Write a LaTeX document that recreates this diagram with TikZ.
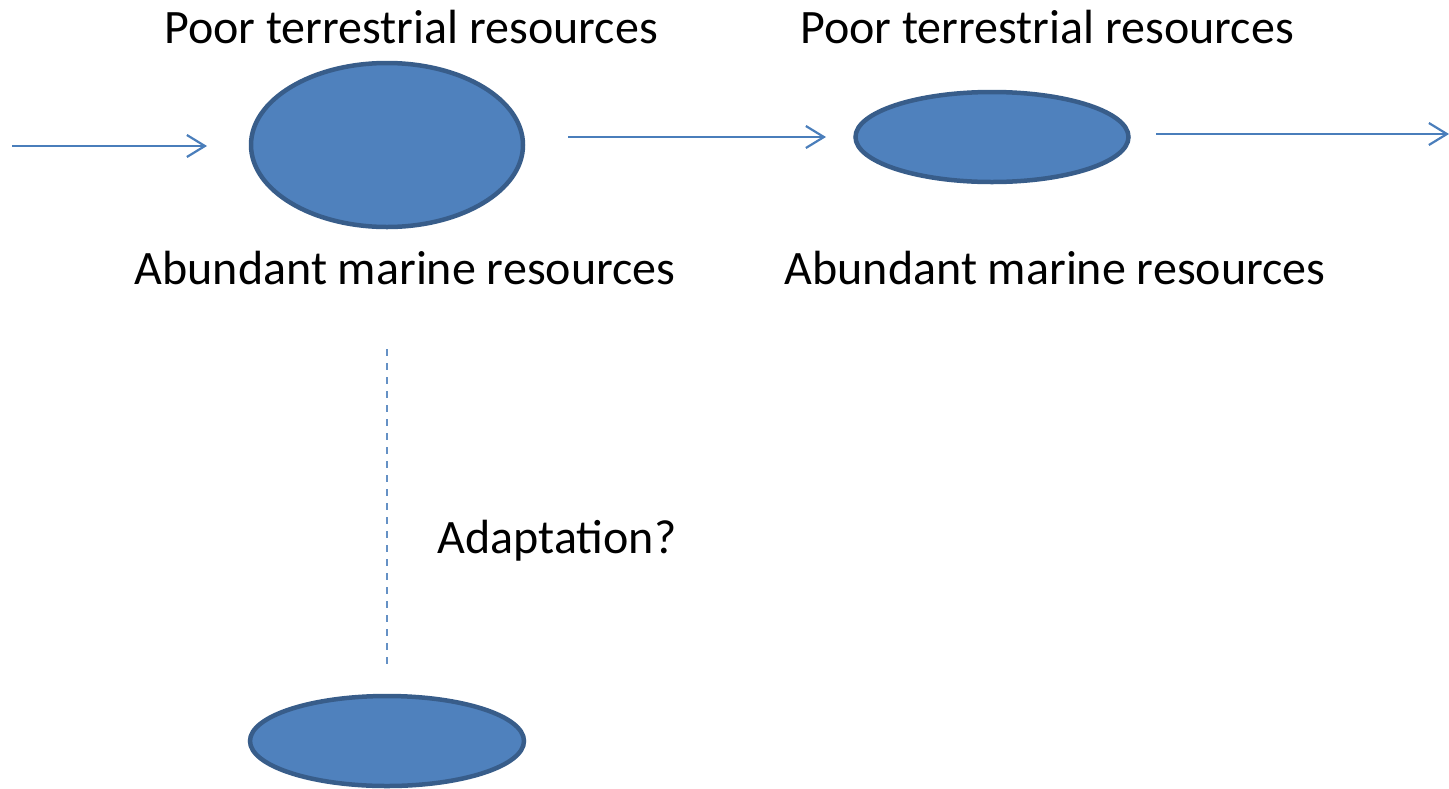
\documentclass[tikz,border=0pt]{standalone}
\usepackage{fontspec}
\setmainfont{Carlito}
\usetikzlibrary{shapes.geometric,arrows.meta}
\definecolor{blobfill}{HTML}{4F81BD}
\definecolor{blobline}{HTML}{385D8A}
\definecolor{arrowline}{HTML}{4A7EBB}
\tikzset{
  blob/.style={ellipse, fill=blobfill, draw=blobline, line width=4.5pt, inner sep=0pt},
  flow/.style={draw=arrowline, line width=2.2pt, -{Straight Barb[length=18pt,width=22pt,line width=2.2pt]}},
  guide/.style={draw=arrowline!85, line width=1.8pt, dash pattern=on 7pt off 7pt},
  lbl/.style={font=\fontsize{48pt}{54pt}\selectfont, inner sep=0pt, text=black}
}
\begin{document}
\begin{tikzpicture}[x=1pt,y=-1pt]
\useasboundingbox (0,0) rectangle (1449,788);
\node[blob, minimum width=272pt, minimum height=164pt] (e1) at (387,145) {};
\node[blob, minimum width=273pt, minimum height=90pt] (e2) at (992,137) {};
\node[blob, minimum width=274pt, minimum height=90pt] (e3) at (387,741) {};
\node[lbl] (t1) at (411,27) {Poor terrestrial resources};
\node[lbl] (t2) at (1047,27) {Poor terrestrial resources};
\node[lbl] (b1) at (405,268) {Abundant marine resources};
\node[lbl] (b2) at (1055,268) {Abundant marine resources};
\node[lbl] (ad) at (557,541) {Adaptation?};
\coordinate (a1s) at (12,146);
\coordinate (a1e) at (207,146);
\coordinate (a2s) at (568,137);
\coordinate (a2e) at (826,137);
\coordinate (a3s) at (1156,134);
\coordinate (a3e) at (1449,134);
\coordinate (ds) at (387,349);
\coordinate (de) at (387,665);
\draw[flow] (a1s) -- (a1e);
\draw[flow] (a2s) -- (a2e);
\draw[flow] (a3s) -- (a3e);
\draw[guide] (ds) -- (de);
\end{tikzpicture}
\end{document}
